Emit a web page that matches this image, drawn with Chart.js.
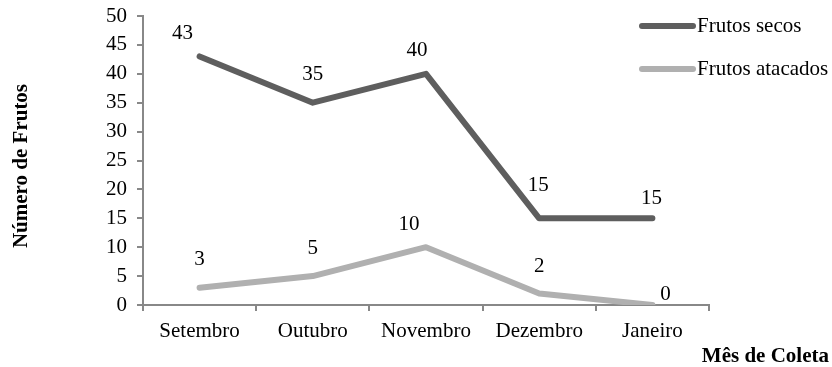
<!DOCTYPE html>
<html>
<head>
<meta charset="utf-8">
<script src="https://cdn.jsdelivr.net/npm/chart.js@4/dist/chart.umd.min.js"></script>
<style>
  html, body { margin: 0; padding: 0; background: #fff; }
  #wrap { width: 832px; height: 367px; position: relative; }
</style>
</head>
<body>
<div id="wrap"><canvas id="c"></canvas></div>
<script>
const meses = ['Setembro', 'Outubro', 'Novembro', 'Dezembro', 'Janeiro'];
const frutosSecos = [43, 35, 40, 15, 15];
const frutosAtacados = [3, 5, 10, 2, 0];

const FONT = "'Liberation Serif', 'Times New Roman', serif";
const AXIS = '#888888';
const DARK = '#5e5e5e';
const LIGHT = '#b0b0b0';

// label nudges (dx, dy from the point to the text centre), as Excel placed them
const labelNudge = [
  [[-17, -24], [0, -29], [-9, -24], [-1, -34], [-1, -21]],
  [[0, -29], [0, -29], [-17, -24], [0, -28], [13, -12]],
];

const extras = {
  id: 'extras',
  afterDatasetsDraw(chart) {
    const ctx = chart.ctx;
    ctx.save();
    ctx.fillStyle = '#000';
    ctx.font = `21px ${FONT}`;
    ctx.textAlign = 'center';
    ctx.textBaseline = 'middle';
    chart.data.datasets.forEach((ds, i) => {
      chart.getDatasetMeta(i).data.forEach((pt, j) => {
        const [dx, dy] = labelNudge[i][j];
        ctx.fillText(String(ds.data[j]), pt.x + dx, pt.y + dy + 1);
      });
    });

    // legend
    ctx.textAlign = 'left';
    ctx.lineCap = 'round';
    ctx.lineWidth = 6;
    chart.data.datasets.forEach((ds, i) => {
      const y = 26 + i * 43;
      ctx.strokeStyle = ds.borderColor;
      ctx.beginPath();
      ctx.moveTo(642, y);
      ctx.lineTo(693, y);
      ctx.stroke();
      ctx.fillStyle = '#000';
      ctx.fillText(ds.label, 697, y);
    });

    // axis titles
    ctx.font = `bold 21px ${FONT}`;
    ctx.textAlign = 'right';
    ctx.textBaseline = 'alphabetic';
    ctx.fillText('Mês de Coleta', 829, 362);
    ctx.translate(27, 166);
    ctx.rotate(-Math.PI / 2);
    ctx.textAlign = 'center';
    ctx.fillText('Número de Frutos', 0, 0);
    ctx.restore();
  }
};

new Chart(document.getElementById('c'), {
  type: 'line',
  data: {
    labels: meses,
    datasets: [
      { label: 'Frutos secos', data: frutosSecos, borderColor: DARK, backgroundColor: DARK },
      { label: 'Frutos atacados', data: frutosAtacados, borderColor: LIGHT, backgroundColor: LIGHT },
    ],
  },
  options: {
    responsive: true,
    maintainAspectRatio: false,
    animation: false,
    devicePixelRatio: 1,
    layout: { padding: { left: 0, top: 16, right: 123, bottom: 0 } },
    elements: {
      line: { borderWidth: 6, tension: 0, borderCapStyle: 'round', borderJoinStyle: 'round' },
      point: { radius: 0 },
    },
    plugins: { legend: { display: false }, tooltip: { enabled: false } },
    scales: {
      x: {
        offset: true,
        grid: { offset: true, drawOnChartArea: false, drawTicks: true, tickLength: 6, color: AXIS, lineWidth: 2 },
        border: { color: AXIS, width: 2 },
        ticks: { color: '#000', font: { family: FONT, size: 21 }, padding: 8, maxRotation: 0 },
        afterFit(s) { s.height = 62; s.paddingLeft = 0; s.paddingRight = 0; },
      },
      y: {
        min: 0, max: 50,
        grid: { drawOnChartArea: false, drawTicks: true, tickLength: 6, color: AXIS, lineWidth: 2 },
        border: { color: AXIS, width: 2 },
        ticks: { stepSize: 5, color: '#000', font: { family: FONT, size: 21 }, padding: 10 },
        afterFit(s) { s.width = 143; s.paddingTop = 0; s.paddingBottom = 0; },
      },
    },
  },
  plugins: [extras],
});
</script>
</body>
</html>
